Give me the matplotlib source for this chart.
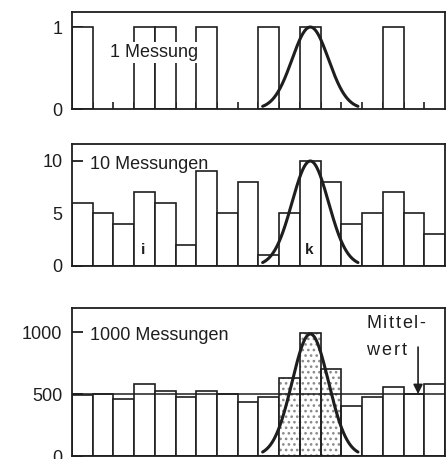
import numpy as np
import matplotlib
matplotlib.use("Agg")
import matplotlib.pyplot as plt
from matplotlib.transforms import offset_copy
from matplotlib.font_manager import FontProperties

plt.rcParams['font.family'] = ['Liberation Sans', 'DejaVu Sans']
plt.rcParams['hatch.linewidth'] = 1.1

# ---- data ----
n_bins = 18
counts_1 = [1, 0, 0, 1, 1, 0, 1, 0, 0, 1, 0, 1, 0, 0, 0, 1, 0, 0]
counts_10 = [6, 5, 4, 7, 6, 2, 9, 5, 8, 1, 5, 10, 8, 4, 5, 7, 5, 3]
counts_1000 = [490, 500, 460, 585, 525, 480, 525, 500, 435, 480,
               630, 990, 700, 405, 475, 560, 500, 580]
stippled_bins = [10, 11, 12]
mean_1000 = 500

gauss_center = 11.5
gauss_sigma = 0.88
gauss_peaks = [1.0, 10.0, 985.0]

titles = ["1 Messung", "10 Messungen", "1000 Messungen"]
yticks = [[0, 1], [0, 5, 10], [0, 500, 1000]]
ylims = [1.183, 11.62, 1194]

INK = "#1e1e1e"
FS = 13

fig = plt.figure(figsize=(4.48, 4.59), dpi=100)
renderer = fig.canvas.get_renderer()
rects = [[0.1607, 0.7625, 0.8326, 0.2113],
         [0.1607, 0.4205, 0.8326, 0.2658],
         [0.1607, 0.0065, 0.8326, 0.3224]]
title_pos = [(1.83, 0.687), (0.87, 9.62), (0.87, 976)]


def spaced_text(ax, x, y, s, spacing, **kw):
    fp = FontProperties(family=plt.rcParams['font.family'], size=kw.get('fontsize', FS))
    for k, ch in enumerate(s):
        if k == 0:
            off = 0.0
        else:
            w, _, _ = renderer.get_text_width_height_descent(s[:k], fp, ismath=False)
            off = w + k * spacing
        tr = offset_copy(ax.transData, fig=fig, x=off, y=0, units='dots')
        ax.text(x, y, ch, transform=tr, ha='left', **kw)


all_counts = [counts_1, counts_10, counts_1000]
x = np.arange(n_bins) + 0.5

for i, (rect, counts) in enumerate(zip(rects, all_counts)):
    ax = fig.add_axes(rect)
    ax.set_xlim(0, n_bins)
    ax.set_ylim(0, ylims[i])
    for s in ax.spines.values():
        s.set_linewidth(1.3)
        s.set_color(INK)
    for b in range(n_bins):
        if counts[b] == 0:
            continue
        if i == 2 and b in stippled_bins:
            ax.bar(x[b], counts[b], width=1.0, facecolor='white', edgecolor='#8a8a8a',
                   linewidth=0, hatch='...', zorder=2)
            ax.bar(x[b], counts[b], width=1.0, fill=False, edgecolor=INK,
                   linewidth=1.2, zorder=3)
        else:
            ax.bar(x[b], counts[b], width=1.0, facecolor='white', edgecolor=INK,
                   linewidth=1.2, zorder=2)
    # gaussian
    gx = np.linspace(gauss_center - 2.3, gauss_center + 2.3, 300)
    gy = gauss_peaks[i] * np.exp(-0.5 * ((gx - gauss_center) / gauss_sigma) ** 2)
    ax.plot(gx, gy, color=INK, linewidth=2.2, zorder=5, solid_capstyle='round')
    # ticks
    ax.set_xticks(np.arange(1, n_bins))
    ax.set_xticklabels([])
    ax.tick_params(axis='x', direction='in', length=5, width=1.2, color=INK)
    ax.set_yticks(yticks[i])
    ax.set_yticklabels([str(v) for v in yticks[i]], fontsize=FS, color=INK)
    ax.tick_params(axis='y', direction='in', length=8, width=1.3, color=INK, pad=7)
    tx, ty = title_pos[i]
    if i == 0:
        ax.text(tx, ty, titles[i], fontsize=FS, color=INK, ha='left', va='center',
                zorder=4, bbox=dict(facecolor='white', edgecolor='none', pad=1.5))
    else:
        ax.text(tx, ty, titles[i], fontsize=FS, color=INK, ha='left', va='center',
                zorder=4)
    if i == 1:
        ax.text(3.45, 1.5, "i", fontsize=11, fontweight='bold', color=INK,
                ha='center', va='center', zorder=4)
        ax.text(11.45, 1.5, "k", fontsize=11, fontweight='bold', color=INK,
                ha='center', va='center', zorder=4)
    if i == 2:
        ax.axhline(mean_1000, color=INK, linewidth=1.1, zorder=4)
        spaced_text(ax, 14.19, 1073, "Mittel-", 1.7, fontsize=FS, color=INK, va='center')
        spaced_text(ax, 14.19, 855, "wert", 2.3, fontsize=FS, color=INK, va='center')
        ax.annotate("", xy=(16.7, mean_1000), xytext=(16.7, 879),
                    arrowprops=dict(arrowstyle='-|>', color=INK, lw=1.2,
                                    mutation_scale=14, shrinkA=0, shrinkB=0),
                    zorder=6)

fig.savefig("out.png", dpi=100, facecolor='white')
